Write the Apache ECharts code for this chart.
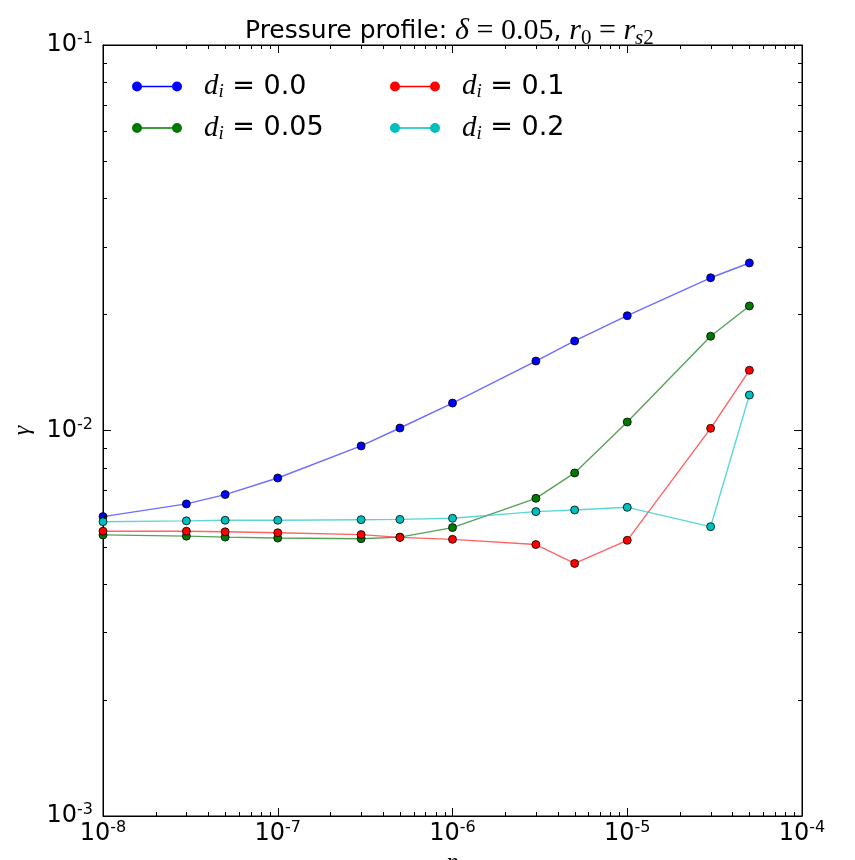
<!DOCTYPE html>
<html>
<head>
<meta charset="utf-8">
<script src="https://cdn.jsdelivr.net/npm/echarts@6/dist/echarts.min.js"></script>
<style>
  html, body { margin: 0; padding: 0; background: #fff; }
  #chart { width: 855px; height: 860px; }
</style>
</head>
<body>
<div id="chart"></div>
<script>
// eta (x axis) sample points
var eta = [1e-8, 3e-8, 5e-8, 1e-7, 3e-7, 5e-7, 1e-6, 3e-6, 5e-6, 1e-5, 3e-5, 5e-5];
// growth rate gamma for each d_i
var gammaDi00  = [0.00598, 0.00645, 0.00682, 0.00753, 0.00912, 0.01015, 0.01178, 0.01514, 0.01707, 0.01985, 0.0249, 0.0272];
var gammaDi005 = [0.00536, 0.00532, 0.00529, 0.00526, 0.00524, 0.00529, 0.0056, 0.00667, 0.00776, 0.01052, 0.01756, 0.02104];
var gammaDi01  = [0.00548, 0.00548, 0.00546, 0.00543, 0.00537, 0.00528, 0.00522, 0.00506, 0.00452, 0.00519, 0.01013, 0.01433];
var gammaDi02  = [0.0058, 0.00583, 0.00585, 0.00585, 0.00587, 0.00588, 0.00592, 0.00616, 0.00622, 0.00632, 0.00563, 0.01236];
// decade exponents used for tick labels
var xTickExp = [-8, -7, -6, -5, -4];
var yTickExp = [-3, -2, -1];

var names = ['d_i = 0.0', 'd_i = 0.05', 'd_i = 0.1', 'd_i = 0.2'];
var labelOf = { 'd_i = 0.0': '0.0', 'd_i = 0.05': '0.05', 'd_i = 0.1': '0.1', 'd_i = 0.2': '0.2' };

function pairs(ys) {
  return eta.map(function (x, i) { return [x, ys[i]]; });
}

// minor tick positions (2..9 inside each decade)
function minors(exps) {
  var out = [];
  for (var k = 0; k < exps.length - 1; k++) {
    for (var m = 2; m <= 9; m++) out.push(m * Math.pow(10, exps[k]));
  }
  return out;
}
var xMinor = minors(xTickExp).map(function (v) { return [v, 1e-2]; });
var yMinor = minors(yTickExp).map(function (v) { return [1e-6, v]; });

function minorTicks(dir) {
  return function (params, api) {
    var cs = params.coordSys;
    var p = api.coord([api.value(0), api.value(1)]);
    var len = 4;
    var st = { stroke: '#000', lineWidth: 1 };
    if (dir === 'x') {
      var x = Math.round(p[0]) + 0.5;
      return { type: 'group', children: [
        { type: 'line', shape: { x1: x, y1: cs.y + cs.height, x2: x, y2: cs.y + cs.height - len }, style: st },
        { type: 'line', shape: { x1: x, y1: cs.y, x2: x, y2: cs.y + len }, style: st }
      ] };
    }
    var y = Math.round(p[1]) + 0.5;
    return { type: 'group', children: [
      { type: 'line', shape: { x1: cs.x, y1: y, x2: cs.x + len, y2: y }, style: st },
      { type: 'line', shape: { x1: cs.x + cs.width, y1: y, x2: cs.x + cs.width - len, y2: y }, style: st }
    ] };
  };
}

function powLabel(v) {
  return '{b|10}{s|' + Math.round(Math.log10(v)) + '}';
}
var powRich = {
  b: { fontFamily: 'DejaVu Sans', fontSize: 24, lineHeight: 28, color: '#000' },
  s: { fontFamily: 'DejaVu Sans', fontSize: 16, lineHeight: 12, verticalAlign: 'top', color: '#000' }
};

var serif = 'Liberation Serif';
var legendRich = {
  d: { fontFamily: serif, fontStyle: 'italic', fontSize: 29, lineHeight: 30, color: '#000', padding: [0, 0, 0, 17] },
  i: { fontFamily: serif, fontStyle: 'italic', fontSize: 19, lineHeight: 14, verticalAlign: 'bottom', color: '#000' },
  t: { fontFamily: 'DejaVu Sans', fontSize: 27, lineHeight: 30, color: '#000' }
};
function legendFmt(name) {
  return '{d|d}{i|i}{t| = ' + labelOf[name] + '}';
}
var legendIcon = 'path://M0,5A5,5,0,1,1,10,5A5,5,0,1,1,0,5ZM5,4.3L45,4.3L45,5.7L5,5.7ZM40,5A5,5,0,1,1,50,5A5,5,0,1,1,40,5Z';

function lineSeries(name, ys, color, lineColor) {
  return {
    name: name,
    type: 'line',
    data: pairs(ys),
    symbol: 'circle',
    symbolSize: 8,
    itemStyle: { color: color, borderColor: '#000', borderWidth: 0.8 },
    lineStyle: { color: lineColor, width: 1.4 },
    emphasis: { disabled: true },
    animation: false
  };
}

var titleRich = {
  n: { fontFamily: 'DejaVu Sans', fontWeight: 'normal', fontSize: 25, lineHeight: 36, color: '#000' },
  m: { fontFamily: serif, fontWeight: 'normal', fontStyle: 'italic', fontSize: 30, lineHeight: 36, color: '#000' },
  r: { fontFamily: serif, fontWeight: 'normal', fontSize: 30, lineHeight: 36, color: '#000' },
  sub: { fontFamily: serif, fontWeight: 'normal', fontSize: 21, lineHeight: 12, verticalAlign: 'bottom', color: '#000' },
  subi: { fontFamily: serif, fontWeight: 'normal', fontStyle: 'italic', fontSize: 21, lineHeight: 12, verticalAlign: 'bottom', color: '#000' }
};

var chart = echarts.init(document.getElementById('chart'));
chart.setOption({
  backgroundColor: '#fff',
  animation: false,
  title: {
    left: 240,
    top: 8,
    text: '{n|Pressure profile: }{m|δ}{r| = 0.05}{n|, }{m|r}{sub|0}{r| = }{m|r}{subi|s}{sub|2}',
    textStyle: { fontWeight: 'normal', rich: titleRich }
  },
  legend: [{
    orient: 'vertical', left: 127, top: 67, itemWidth: 50, itemHeight: 10, itemGap: 12,
    icon: legendIcon, itemStyle: { borderWidth: 0 },
    data: [names[0], names[1]], formatter: legendFmt, textStyle: { rich: legendRich }, selectedMode: false
  }, {
    orient: 'vertical', left: 385, top: 67, itemWidth: 50, itemHeight: 10, itemGap: 12,
    icon: legendIcon, itemStyle: { borderWidth: 0 },
    data: [names[2], names[3]], formatter: legendFmt, textStyle: { rich: legendRich }, selectedMode: false
  }],
  grid: {
    left: 103, right: 53, top: 45, bottom: 44, outerBoundsMode: 'none', containLabel: false,
    show: true, borderColor: '#000', borderWidth: 1
  },
  xAxis: [{
    type: 'log', logBase: 10, min: 1e-8, max: 1e-4, position: 'bottom',
    name: 'η', nameLocation: 'middle', nameGap: 28,
    nameTextStyle: { fontFamily: serif, fontStyle: 'italic', fontSize: 24, color: '#000' },
    axisLine: { lineStyle: { color: '#000', width: 1 } },
    axisTick: { inside: true, length: 8, lineStyle: { color: '#000' } },
    axisLabel: { formatter: powLabel, rich: powRich, margin: 4, showMinLabel: true, showMaxLabel: true, hideOverlap: false },
    splitLine: { show: false }
  }, {
    type: 'log', logBase: 10, min: 1e-8, max: 1e-4, position: 'top',
    axisLine: { lineStyle: { color: '#000', width: 1 } },
    axisTick: { inside: true, length: 8, lineStyle: { color: '#000' } },
    axisLabel: { show: false }, splitLine: { show: false }
  }],
  yAxis: [{
    type: 'log', logBase: 10, min: 1e-3, max: 1e-1, position: 'left',
    name: 'γ', nameLocation: 'middle', nameGap: 68, nameRotate: 90,
    nameTextStyle: { fontFamily: serif, fontStyle: 'italic', fontSize: 24, color: '#000' },
    axisLine: { lineStyle: { color: '#000', width: 1 } },
    axisTick: { inside: true, length: 8, lineStyle: { color: '#000' } },
    axisLabel: { formatter: powLabel, rich: powRich, margin: 10, showMinLabel: true, showMaxLabel: true },
    splitLine: { show: false }
  }, {
    type: 'log', logBase: 10, min: 1e-3, max: 1e-1, position: 'right',
    axisLine: { lineStyle: { color: '#000', width: 1 } },
    axisTick: { inside: true, length: 8, lineStyle: { color: '#000' } },
    axisLabel: { show: false }, splitLine: { show: false }
  }],
  series: [
    { type: 'custom', name: 'xminor', data: xMinor, renderItem: minorTicks('x'), silent: true, z: 5 },
    { type: 'custom', name: 'yminor', data: yMinor, renderItem: minorTicks('y'), silent: true, z: 5 },
    lineSeries(names[0], gammaDi00, '#0000ff', 'rgba(60,60,255,0.75)'),
    lineSeries(names[1], gammaDi005, '#007a00', 'rgba(30,130,30,0.75)'),
    lineSeries(names[2], gammaDi01, '#ff0000', 'rgba(255,60,60,0.8)'),
    lineSeries(names[3], gammaDi02, '#00bfbf', 'rgba(40,200,200,0.75)')
  ]
});
</script>
</body>
</html>
